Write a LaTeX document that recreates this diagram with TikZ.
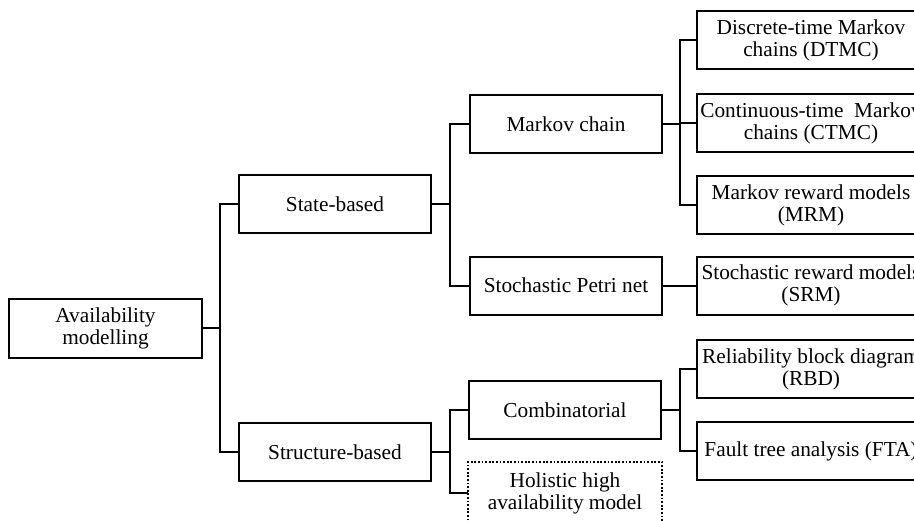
\documentclass[tikz,border=0pt]{standalone}
\usepackage{fontspec}
\setmainfont{Liberation Serif}
\begin{document}
\begin{tikzpicture}[x=1pt,y=-1pt,
  box/.style={draw,line width=2pt,align=center,minimum width=192pt,minimum height=58pt,inner sep=0pt,font=\fontsize{21.3}{22}\selectfont},
  wbox/.style={box,minimum width=228pt},
  dbox/.style={box,draw=none},
  conn/.style={line width=2pt}]
\useasboundingbox (0,0) rectangle (914,520);
\clip (0,0) rectangle (914,520);
\node[box,minimum width=193pt,minimum height=59pt] (avail) at (105.5,328) {Availability\\modelling};
\node[box] (state) at (335,204) {State-based};
\node[box] (struct) at (335,452) {Structure-based};
\node[box] (markov) at (566,124) {Markov chain};
\node[box] (spn) at (566,285.5) {Stochastic Petri net};
\node[box] (comb) at (565,410) {Combinatorial};
\node[dbox,minimum height=60pt] (holistic) at (565,493) {Holistic high\\availability model};
\draw[line width=2pt,dash pattern=on 1.8pt off 1.8pt] (holistic.south west) rectangle (holistic.north east);
\node[wbox] (dtmc) at (811,40) {Discrete-time Markov\\chains (DTMC)};
\node[wbox] (ctmc) at (811,123) {Continuous-time~ Markov\\chains (CTMC)};
\node[wbox] (mrm) at (811,205) {Markov reward models\\(MRM)};
\node[wbox] (srm) at (811,285.5) {Stochastic reward models\\(SRM)};
\node[wbox] (rbd) at (811,369) {Reliability block diagram\\(RBD)};
\node[wbox] (fta) at (811,451) {Fault tree analysis (FTA)};
\coordinate (b1) at (220,328);
\coordinate (b2) at (450,204);
\coordinate (b3) at (680,124);
\coordinate (b4) at (450,452);
\coordinate (b5) at (680,410);
\draw[conn] (avail.east) -- (b1);
\draw[conn] (state.west) -| (b1);
\draw[conn] (struct.west) -| (b1);
\draw[conn] (state.east) -- (b2);
\draw[conn] (markov.west) -| (b2);
\draw[conn] (spn.west) -| (b2);
\draw[conn] (markov.east) -- (b3);
\draw[conn] (dtmc.west) -| (b3);
\draw[conn] (ctmc.west) -| (b3);
\draw[conn] (mrm.west) -| (b3);
\draw[conn] (spn.east) -- (srm.west);
\draw[conn] (struct.east) -- (b4);
\draw[conn] (comb.west) -| (b4);
\draw[conn] (holistic.west) -| (b4);
\draw[conn] (comb.east) -- (b5);
\draw[conn] (rbd.west) -| (b5);
\draw[conn] (fta.west) -| (b5);
\end{tikzpicture}
\end{document}
